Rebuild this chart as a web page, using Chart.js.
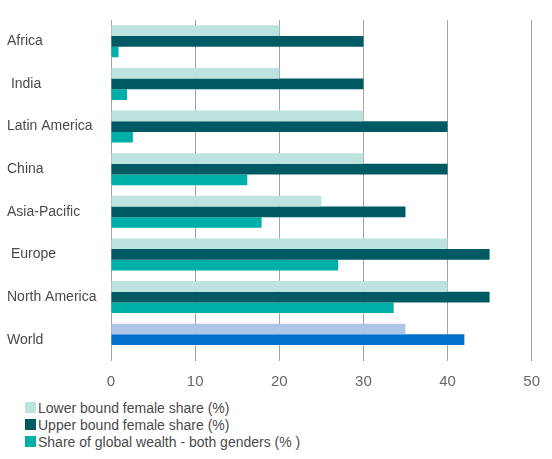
<!DOCTYPE html>
<html>
<head>
<meta charset="utf-8">
<script src="https://cdn.jsdelivr.net/npm/chart.js@4"></script>
<style>
  body { margin: 0; background: #fff; font-family: "Liberation Sans", Arial, sans-serif; }
  #wrap { position: relative; width: 552px; height: 459px; }
  #box { position: absolute; left: 0; top: 0; width: 552px; height: 396px; }
  #legend { position: absolute; left: 25px; top: 399px; }
  .item { display: flex; align-items: center; height: 17px; font-size: 14px; color: #4a4a4a; }
  .sw { width: 11px; height: 11px; margin-right: 2px; }
</style>
</head>
<body>
<div id="wrap">
  <div id="box"><canvas id="chart"></canvas></div>
  <div id="legend"></div>
</div>
<script>
// regions, top to bottom
const categories = ['Africa', ' India', 'Latin America', 'China', 'Asia-Pacific', ' Europe', 'North America', 'World'];
const seriesNames = ['Lower bound female share (%)', 'Upper bound female share (%)', 'Share of global wealth - both genders (% )'];
const lowerBound = [20, 20, 30, 30, 25, 40, 40, 35];
const upperBound = [30, 30, 40, 40, 35, 45, 45, 42];
const wealthShare = [0.9, 1.9, 2.6, 16.2, 17.9, 27, 33.6, null];
const xTicks = [0, 10, 20, 30, 40, 50];

const colLower = '#bde3df', colUpper = '#005a64', colShare = '#00b0a8';
const worldLower = '#adc6e6', worldUpper = '#0070cc';

// world bars get their own blues
const paint = (base, world) => categories.map(c => c === 'World' ? world : base);

const ctx = document.getElementById('chart');
new Chart(ctx, {
    type: 'bar',
    data: {
        labels: categories,
        datasets: [
            { label: seriesNames[0], data: lowerBound, backgroundColor: paint(colLower, worldLower) },
            { label: seriesNames[1], data: upperBound, backgroundColor: paint(colUpper, worldUpper) },
            { label: seriesNames[2], data: wealthShare, backgroundColor: colShare }
        ]
    },
    options: {
        indexAxis: 'y',
        responsive: true,
        maintainAspectRatio: false,
        animation: false,
        layout: { padding: { left: 7, right: 18, top: 20, bottom: 0 } },
        datasets: { bar: { categoryPercentage: 0.75, barPercentage: 1.0 } },
        plugins: { legend: { display: false }, tooltip: { enabled: false } },
        scales: {
            x: {
                min: 0,
                max: 50,
                afterBuildTicks: s => { s.ticks = xTicks.map(v => ({ value: v })); },
                grid: { color: '#a3a3a3', lineWidth: 1, drawTicks: false },
                border: { display: false },
                ticks: { color: '#666', padding: 12, font: { family: 'Liberation Sans', size: 15 } },
                afterFit: s => { s.height = 35; }
            },
            y: {
                grid: { display: false },
                border: { display: false },
                ticks: { color: '#4a4a4a', crossAlign: 'far', font: { family: 'Liberation Sans', size: 14 } },
                afterFit: s => { s.width = 104; }
            }
        }
    }
});

// legend under the plot, one row per series
const legend = document.getElementById('legend');
[colLower, colUpper, colShare].forEach((c, i) => {
    const row = document.createElement('div');
    row.className = 'item';
    row.innerHTML = `<span class="sw" style="background:${c}"></span><span>${seriesNames[i]}</span>`;
    legend.appendChild(row);
});
</script>
</body>
</html>
